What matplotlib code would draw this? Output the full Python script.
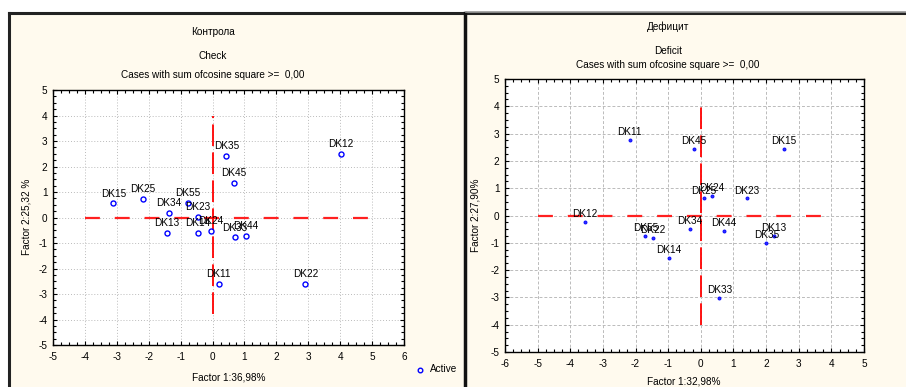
import matplotlib
matplotlib.use("Agg")
import matplotlib.pyplot as plt
from matplotlib.lines import Line2D
from matplotlib.ticker import MultipleLocator

plt.rcParams['font.family'] = ['Liberation Sans', 'DejaVu Sans']
plt.rcParams['axes.unicode_minus'] = False
FS = 7.2

# ---------------- data ----------------
check_labels = ["DK12", "DK35", "DK45", "DK15", "DK25", "DK55", "DK34", "DK23",
                "DK13", "DK14", "DK24", "DK33", "DK44", "DK11", "DK22"]
check_x = [4.01, 0.43, 0.66, -3.11, -2.19, -0.78, -1.37, -0.45,
           -1.44, -0.45, -0.05, 0.71, 1.05, 0.19, 2.91]
check_y = [2.50, 2.41, 1.35, 0.55, 0.72, 0.56, 0.19, 0.03,
           -0.62, -0.62, -0.51, -0.78, -0.71, -2.61, -2.61]

deficit_labels = ["DK11", "DK45", "DK15", "DK24", "DK25", "DK23", "DK12", "DK34",
                  "DK44", "DK55", "DK22", "DK13", "DK35", "DK14", "DK33"]
deficit_x = [-2.18, -0.21, 2.55, 0.33, 0.10, 1.41, -3.56, -0.33,
             0.70, -1.70, -1.46, 2.25, 2.01, -0.98, 0.57]
deficit_y = [2.78, 2.43, 2.43, 0.73, 0.63, 0.63, -0.22, -0.48,
             -0.57, -0.75, -0.83, -0.74, -1.00, -1.54, -3.01]

check_xlim = [-5, 6]
deficit_xlim = [-6, 5]
ylim = [-5, 5]
check_hline = [-4, 5]
check_vline = [-3.8, 4]
deficit_hline = [-5, 4]
deficit_vline = [-4, 4]

W, H = 906, 387
fig = plt.figure(figsize=(W / 100, H / 100), dpi=100)
fig.patch.set_facecolor('white')

def frac_box(l, r, t, b):
    return [l / W, 1 - b / H, (r - l) / W, (b - t) / H]

# cream panel background + frames
bg = plt.Rectangle((9 / W, 0), 1 - 9 / W, 1 - 13 / H, transform=fig.transFigure,
                   facecolor='#FFFAEE', edgecolor='none', zorder=-10)
fig.patches.append(bg)
for (xs, ys, lw, c) in [
    ([9, 9], [387, 13], 2.2, '#222222'),
    ([9, 906], [13, 13], 2.2, '#222222'),
    ([464.5, 464.5], [387, 13], 2.5, '#111111'),
    ([466, 906], [11.5, 11.5], 1.2, '#999999'),
]:
    fig.add_artist(Line2D([x / W for x in xs], [1 - y / H for y in ys],
                          transform=fig.transFigure, color=c, lw=lw))


def setup(ax, xlim, grid_ls):
    ax.set_xlim(*xlim)
    ax.set_ylim(*ylim)
    ax.set_facecolor('white')
    ax.xaxis.set_major_locator(MultipleLocator(1))
    ax.yaxis.set_major_locator(MultipleLocator(1))
    ax.xaxis.set_minor_locator(MultipleLocator(0.25))
    ax.yaxis.set_minor_locator(MultipleLocator(0.25))
    ax.tick_params(which='both', direction='in', top=True, right=True,
                   labelsize=FS, colors='black')
    ax.tick_params(which='major', length=3, width=0.8)
    ax.tick_params(which='minor', length=2, width=0.8)
    ax.tick_params(axis='x', pad=5)
    ax.tick_params(axis='y', pad=4)
    for s in ax.spines.values():
        s.set_linewidth(1.0)
        s.set_color('black')
    ax.grid(True, which='major', color='#BBBBBB', lw=0.7, ls=grid_ls)
    ax.set_axisbelow(True)


H_DASH = (0, (6.7, 6.7))
V_DASH = (0, (12, 3.5))

# ---------------- left panel ----------------
ax1 = fig.add_axes(frac_box(53, 404, 90, 345))
setup(ax1, check_xlim, (0, (1, 2)))
ax1.plot(check_hline, [0, 0], color='#FF2020', lw=1.6, ls=H_DASH, zorder=2)
ax1.plot([0, 0], check_vline, color='#FF0000', lw=1.3, ls=V_DASH, zorder=2)
ax1.plot(check_x, check_y, ls='none', marker='o', ms=3.6, mfc='none',
         mec='#0000FF', mew=1.0, zorder=3)
for lab, x, y in zip(check_labels, check_x, check_y):
    ax1.annotate(lab, (x, y), xytext=(0, 3.5), textcoords='offset points',
                 ha='center', va='bottom', fontsize=FS, zorder=4)

fig.text(213 / W, 1 - 32 / H, "Контрола", ha='center', va='center', fontsize=FS)
fig.text(213 / W, 1 - 56 / H, "Check", ha='center', va='center', fontsize=FS)
fig.text(213 / W, 1 - 75 / H, "Cases with sum ofcosine square >=  0,00",
         ha='center', va='center', fontsize=FS)
fig.text(229 / W, 1 - 378 / H, "Factor 1:36,98%", ha='center', va='center', fontsize=FS)
fig.text(27 / W, 1 - 217 / H, "Factor 2:25,32 %", ha='center', va='center',
         rotation=90, fontsize=FS)

# legend
fig.add_artist(Line2D([420 / W], [1 - 370 / H], transform=fig.transFigure,
                      ls='none', marker='o', ms=3.3, mfc='none', mec='#0000FF', mew=1.0))
fig.text(430 / W, 1 - 369 / H, "Active", ha='left', va='center', fontsize=FS)

# ---------------- right panel ----------------
ax2 = fig.add_axes(frac_box(505, 864, 79, 352))
setup(ax2, deficit_xlim, (0, (3, 2)))
ax2.plot(deficit_hline, [0, 0], color='#FF2020', lw=1.6, ls=H_DASH, zorder=2)
ax2.plot([0, 0], deficit_vline, color='#FF0000', lw=1.3, ls=V_DASH, zorder=2)
ax2.plot(deficit_x, deficit_y, ls='none', marker='o', ms=2.2, mfc='#3030FF',
         mec='#0000FF', mew=0.6, zorder=3)
for lab, x, y in zip(deficit_labels, deficit_x, deficit_y):
    ax2.annotate(lab, (x, y), xytext=(0, 2), textcoords='offset points',
                 ha='center', va='bottom', fontsize=FS, zorder=4)

fig.text(668 / W, 1 - 27 / H, "Дефицит", ha='center', va='center', fontsize=FS)
fig.text(668 / W, 1 - 51 / H, "Deficit", ha='center', va='center', fontsize=FS)
fig.text(668 / W, 1 - 65 / H, "Cases with sum ofcosine square >=  0,00",
         ha='center', va='center', fontsize=FS)
fig.text(684 / W, 1 - 381 / H, "Factor 1:32,98%", ha='center', va='center', fontsize=FS)
fig.text(476 / W, 1 - 215 / H, "Factor 2:27,90%", ha='center', va='center',
         rotation=90, fontsize=FS)

fig.savefig("out.png", dpi=100, facecolor=fig.get_facecolor())
